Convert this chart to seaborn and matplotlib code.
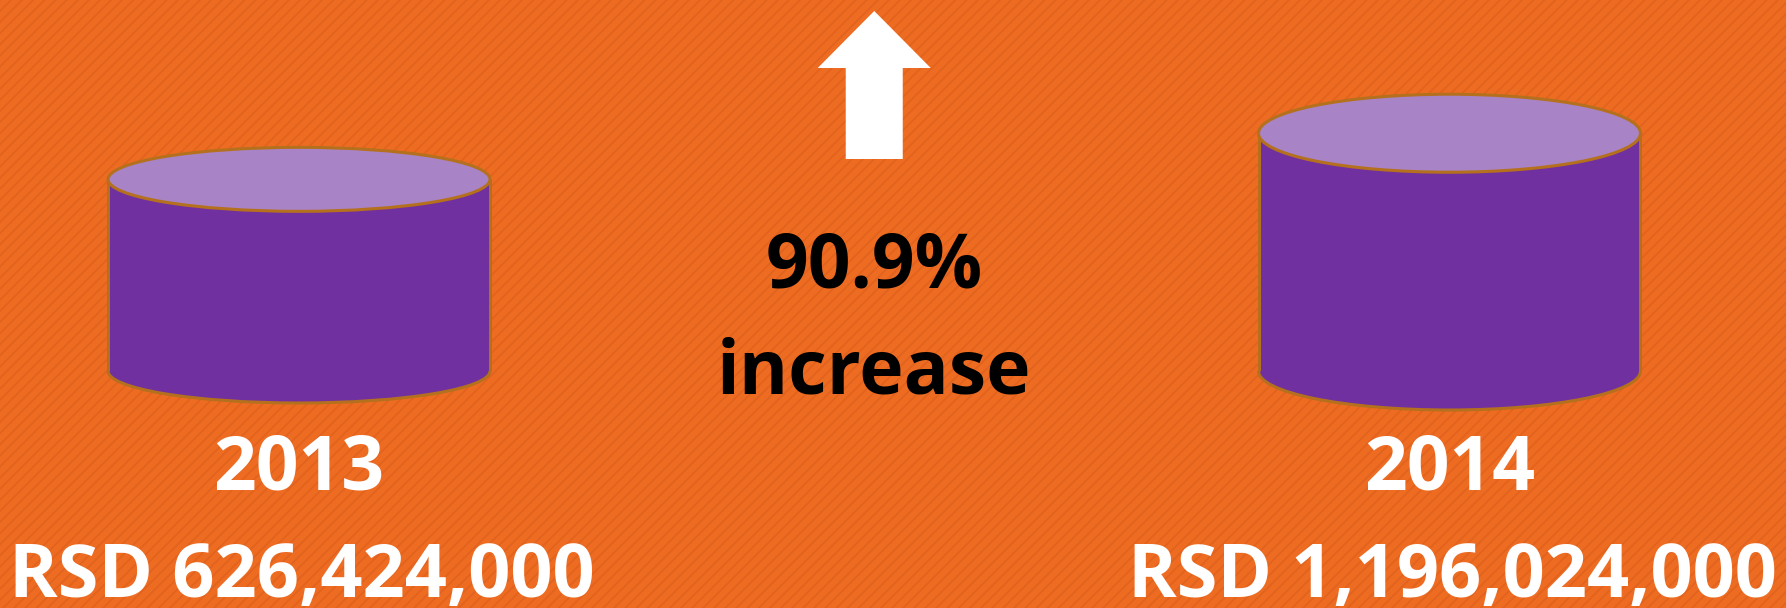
import numpy as np
import pandas as pd
import matplotlib.pyplot as plt
import matplotlib.transforms as mtransforms
from matplotlib.patches import Ellipse, Arc, Rectangle, Polygon
import seaborn as sns

# --- dados ---
years = ["2013", "2014"]
amounts = [626424000, 1196024000]   # RSD

# --- estilo ---
ORANGE = "#EE6C22"
STRIPE = "#E2631E"
PURPLE = "#7030A0"
TOP = "#A883C6"
EDGE = "#B5701E"
W, H, DPI = 1786, 608, 100
BASE_PX = 237          # linha de base das barras (px a partir de baixo)
PX_PER_CBRT = 0.224    # escala raiz cúbica -> pixels
ELL_HALF = [32, 39]    # meia-altura das elipses de cada cilindro (px)
FS = 54

sns.set_style("white")
plt.rcParams["font.family"] = ["Open Sans", "DejaVu Sans"]
plt.rcParams["hatch.linewidth"] = 1.3

df = pd.DataFrame({"ano": years, "valor": amounts})
increase = round((amounts[1] / amounts[0] - 1) * 100, 1)

fig = plt.figure(figsize=(W / DPI, H / DPI), dpi=DPI)
fig.patch.set_facecolor(ORANGE)
fig.add_artist(Rectangle((0, 0), 1, 1, transform=fig.transFigure, facecolor=ORANGE,
                         edgecolor=STRIPE, lw=0, hatch="///", zorder=-10))

ax = fig.add_axes([0, BASE_PX / H, 1, 1 - BASE_PX / H])
sns.barplot(data=df, x="ano", y="valor", color=PURPLE, saturation=1, width=0.332,
            errorbar=None, linewidth=0, ax=ax)
# escala raiz cúbica (volume do cilindro)
ax.set_yscale("function", functions=(np.cbrt, lambda v: np.power(v, 3)))
ax.set_ylim(0, ((H - BASE_PX) / PX_PER_CBRT) ** 3)
ax.set_xlim(-0.2599, 1.2925)
ax.axis("off")

px = mtransforms.IdentityTransform()
centers = []
for i, bar in enumerate(ax.patches):
    x0, y0 = ax.transData.transform((bar.get_x(), 0))
    x1, y1 = ax.transData.transform((bar.get_x() + bar.get_width(), bar.get_height()))
    cx, w, h = (x0 + x1) / 2, x1 - x0, ELL_HALF[i]
    centers.append(cx)
    # fundo do cilindro
    ax.add_patch(Ellipse((cx, y0), w, 2 * h, transform=px, facecolor=PURPLE,
                         lw=0, clip_on=False, zorder=1))
    ax.add_patch(Arc((cx, y0), w, 2 * h, theta1=180, theta2=360, transform=px,
                     color=EDGE, lw=2.2, clip_on=False, zorder=3))
    for xe in (x0, x1):
        ax.plot([xe, xe], [y0, y1], transform=px, color=EDGE, lw=2.2,
                clip_on=False, zorder=3, solid_capstyle="butt")
    # tampa
    ax.add_patch(Ellipse((cx, y1), w, 2 * h, transform=px, facecolor=TOP,
                         edgecolor=EDGE, lw=2.2, clip_on=False, zorder=4))
    # rótulos
    ax.text(cx, 118, years[i], transform=px, ha="center", va="baseline",
            fontsize=FS, fontweight="bold", color="white", clip_on=False)
    ax.text(cx + 3, 11, f"RSD {amounts[i]:,}", transform=px, ha="center", va="baseline",
            fontsize=FS - 0.8, fontweight="bold", color="white", clip_on=False)

# seta e texto central
mid = sum(centers) / 2
ax.add_patch(Polygon([(mid, 597), (mid + 56.5, 540), (mid + 28.5, 540), (mid + 28.5, 449),
                      (mid - 28.5, 449), (mid - 28.5, 540), (mid - 56.5, 540)],
                     closed=True, transform=px, facecolor="white", lw=0, clip_on=False, zorder=5))
ax.text(mid, 321, f"{increase}%", transform=px, ha="center", va="baseline",
        fontsize=FS, fontweight="bold", color="black", clip_on=False)
ax.text(mid, 215, "increase", transform=px, ha="center", va="baseline",
        fontsize=FS, fontweight="bold", color="black", clip_on=False)

fig.savefig("out.png", dpi=DPI, facecolor=fig.get_facecolor())
